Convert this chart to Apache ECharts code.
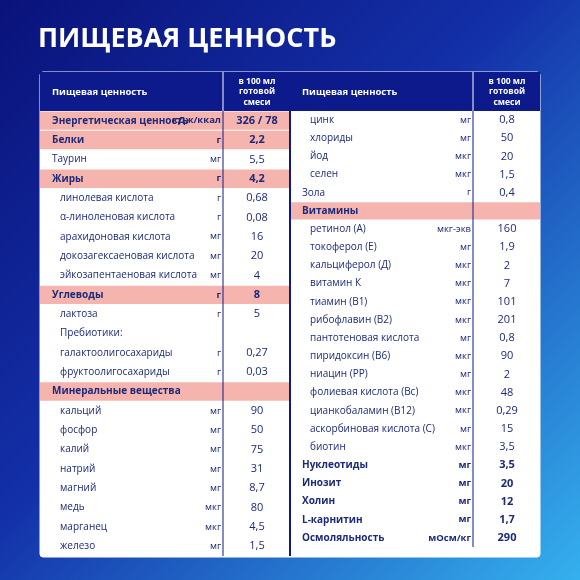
<!DOCTYPE html><html><head><meta charset="utf-8"><script src="https://cdn.jsdelivr.net/npm/echarts@6/dist/echarts.min.js"></script>
<style>html,body{margin:0;padding:0}#c{width:580px;height:580px}</style></head><body><div id="c"></div>
<script>
const title = 'ПИЩЕВАЯ ЦЕННОСТЬ';
const headerName = 'Пищевая ценность';
const headerVal = 'в 100 мл\nготовой\nсмеси';
// [name, unit, value, style(p=pink bold, b=bold, n=normal), indent]
const leftNames = ['Энергетическая ценность','Белки','Таурин','Жиры','линолевая кислота','α-линоленовая кислота','арахидоновая кислота','докозагексаеновая кислота','эйкозапентаеновая кислота','Углеводы','лактоза','Пребиотики:','галактоолигосахариды','фруктоолигосахариды','Минеральные вещества','кальций','фосфор','калий','натрий','магний','медь','марганец','железо'];
const leftUnits = ['кДж/ккал','г','мг','г','г','г','мг','мг','мг','г','г','','г','г','','мг','мг','мг','мг','мг','мкг','мкг','мг'];
const leftValues = ['326 / 78','2,2','5,5','4,2','0,68','0,08','16','20','4','8','5','','0,27','0,03','','90','50','75','31','8,7','80','4,5','1,5'];
const leftStyle = ['p','p','n','p','n','n','n','n','n','p','n','n','n','n','p','n','n','n','n','n','n','n','n'];
const leftIndent = [0,0,0,0,1,1,1,1,1,0,1,1,1,1,0,1,1,1,1,1,1,1,1];
const rightNames = ['цинк','хлориды','йод','селен','Зола','Витамины','ретинол (А)','токоферол (Е)','кальциферол (Д)','витамин К','тиамин (В1)','рибофлавин (В2)','пантотеновая кислота','пиридоксин (В6)','ниацин (РР)','фолиевая кислота (Вс)','цианкобаламин (В12)','аскорбиновая кислота (С)','биотин','Нуклеотиды','Инозит','Холин','L-карнитин','Осмоляльность'];
const rightUnits = ['мг','мг','мкг','мкг','г','','мкг-экв','мг','мкг','мкг','мкг','мкг','мг','мкг','мг','мкг','мкг','мг','мкг','мг','мг','мг','мг','мОсм/кг'];
const rightValues = ['0,8','50','20','1,5','0,4','','160','1,9','2','7','101','201','0,8','90','2','48','0,29','15','3,5','3,5','20','12','1,7','290'];
const rightStyle = ['n','n','n','n','n','p','n','n','n','n','n','n','n','n','n','n','n','n','n','b','b','b','b','b'];
const rightIndent = [1,1,1,1,0,0,1,1,1,1,1,1,1,1,1,1,1,1,1,0,0,0,0,0];

const C = {navy:'#0c1a8c', text:'#1b2a7a', pink:'#f5b5ae'};
const F = 'Open Sans, Noto Sans, sans-serif';
const g = [];
g.push({type:'rect',shape:{x:0,y:0,width:580,height:580},style:{fill:new echarts.graphic.LinearGradient(0,0,1,1,[{offset:0,color:'#0a127a'},{offset:0.45,color:'#1330a8'},{offset:1,color:'#35b0ee'}])}});
g.push({type:'text',x:38,y:26,style:{text:title,fill:'#fff',font:'bold 27px '+F}});
g.push({type:'rect',shape:{x:40,y:72,width:500,height:485,r:3},style:{fill:'#fff',stroke:'#fff',lineWidth:1}});
function panel(x0,names,units,vals,st,ind,y0,y1){
  const w=250, split=x0+183;
  g.push({type:'rect',shape:{x:x0,y:72,width:w,height:39},style:{fill:C.navy}});
  g.push({type:'line',shape:{x1:split,y1:72,x2:split,y2:111},style:{stroke:'#fff',lineWidth:1}});
  g.push({type:'text',x:x0+12,y:92,style:{text:headerName,fill:'#fff',font:'bold 9.5px '+F,verticalAlign:'middle'}});
  g.push({type:'text',x:split+34,y:92,style:{text:headerVal,fill:'#fff',font:'bold 8.5px '+F,align:'center',verticalAlign:'middle',lineHeight:10.5}});
  const h=(y1-y0)/names.length;
  names.forEach((n,i)=>{
    const y=y0+i*h, cy=y+h/2, s=st[i];
    if(s==='p') g.push({type:'rect',shape:{x:x0,y:y+0.5,width:w,height:h-1},style:{fill:C.pink}});
    const font=(s==='n'?'':'bold ')+'10px '+F;
    g.push({type:'text',x:x0+12+ind[i]*8,y:cy,style:{text:n,fill:C.text,font,verticalAlign:'middle'}});
    g.push({type:'text',x:split-2,y:cy,style:{text:units[i],fill:C.text,font:(s==='n'?'':'bold ')+'9.5px '+F,align:'right',verticalAlign:'middle'}});
    g.push({type:'text',x:split+34,y:cy,style:{text:vals[i],fill:C.text,font:(s==='n'?'':'bold ')+'11px '+F,align:'center',verticalAlign:'middle'}});
  });
  g.push({type:'line',shape:{x1:split,y1:111,x2:split,y2:y1},style:{stroke:C.navy,lineWidth:1}});
}
panel(40,leftNames,leftUnits,leftValues,leftStyle,leftIndent,111,556);
panel(290,rightNames,rightUnits,rightValues,rightStyle,rightIndent,111,547);
g.push({type:'line',shape:{x1:290,y1:72,x2:290,y2:556},style:{stroke:C.navy,lineWidth:2}});
const chart=echarts.init(document.getElementById('c'));
chart.setOption({graphic:g});
</script></body></html>
